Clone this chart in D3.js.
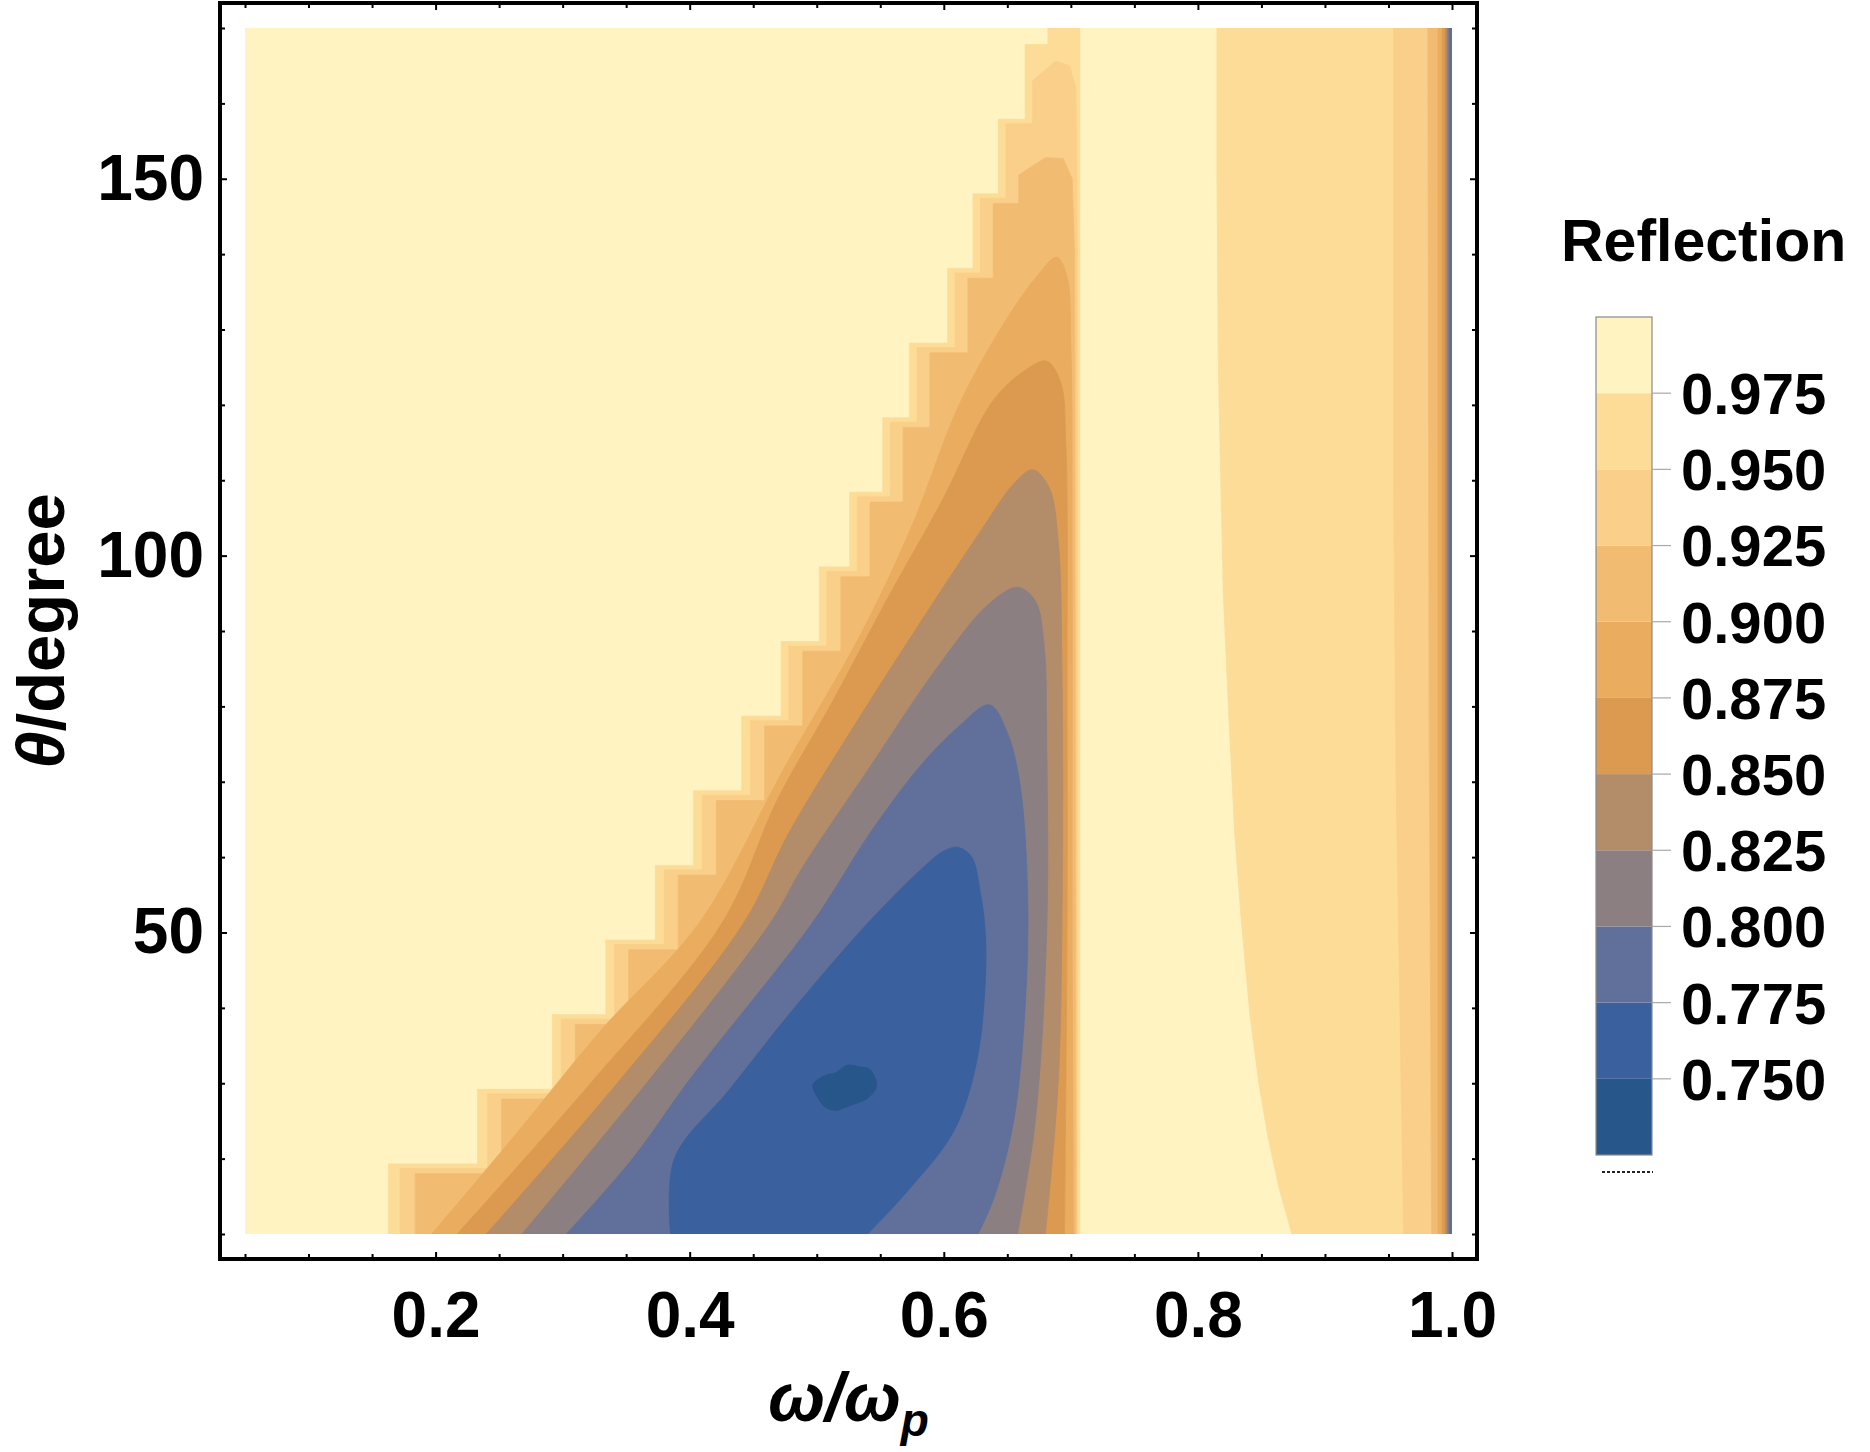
<!DOCTYPE html>
<html><head><meta charset="utf-8">
<script src="https://cdn.jsdelivr.net/npm/d3@7"></script>
<style>
body{margin:0;background:#fff}
svg{display:block}
text{font-family:"Liberation Sans",Arial,sans-serif;font-weight:bold;fill:#000}
</style>
</head><body>
<svg id="chart" width="1870" height="1452"></svg>
<script>
// ---------- data ----------
const levels = [0.975, 0.95, 0.925, 0.9, 0.875, 0.85, 0.825, 0.8, 0.775, 0.75];
const legendRange = [0.725, 1.0];
const xTicks = [0.2, 0.4, 0.6, 0.8, 1.0];
const xMinorTicks = [0.05, 0.1, 0.15, 0.25, 0.3, 0.35, 0.45, 0.5, 0.55, 0.65, 0.7, 0.75, 0.85, 0.9, 0.95];
const yTicks = [50, 100, 150];
const yMinorTicks = [10, 20, 30, 40, 60, 70, 80, 90, 110, 120, 130, 140, 160, 170];

// staircase sampling rows (theta) of the outer contours
const stepTheta975 = [10, 19.3, 29.2, 39.1, 49.0, 58.9, 68.8, 78.7, 88.6, 98.5, 108.4, 118.3, 128.2, 138.1, 148.0, 157.9, 167.8];
const stepTheta950 = [10, 18.7, 28.6, 38.5, 48.4, 58.3, 68.2, 78.1, 88.0, 97.9, 107.8, 117.7, 127.6, 137.5, 147.4, 157.3];
const stepTheta925 = [10, 18.0, 27.9, 37.8, 47.7, 57.6, 67.5, 77.4, 87.3, 97.2, 107.1, 117.0, 126.9, 136.8, 146.7];
const stepOmega975 = [0.163, 0.233, 0.292, 0.334, 0.373, 0.403, 0.441, 0.472, 0.502, 0.526, 0.552, 0.573, 0.603, 0.623, 0.643, 0.664, 0.682];
const stepOmega950 = [0.172, 0.241, 0.299, 0.341, 0.380, 0.410, 0.448, 0.478, 0.508, 0.532, 0.558, 0.579, 0.609, 0.629, 0.649, 0.670];
const stepOmega925 = [0.184, 0.252, 0.310, 0.352, 0.391, 0.421, 0.459, 0.489, 0.519, 0.542, 0.568, 0.589, 0.619, 0.639, 0.659];
// top / right side of the staircase contours [omega, theta]
const cap975 = [[0.682, 170], [0.707, 170], [0.707, 10]];
const cap950 = [[0.670, 163], [0.688, 165.6], [0.699, 165], [0.704, 162], [0.705, 140], [0.705, 10]];
const cap925 = [[0.659, 150.5], [0.680, 152.8], [0.694, 152.7], [0.701, 150], [0.703, 140], [0.704, 10]];

// smooth wedge contours [omega, theta], bottom-left -> apex -> bottom-right
const wedge900 = [[0.197, 10], [0.262, 23], [0.330, 37], [0.408, 51.4], [0.475, 72], [0.535, 89.7], [0.575, 104], [0.612, 120], [0.648, 131], [0.673, 137], [0.689, 139.6], [0.697, 137], [0.700, 128], [0.701, 100], [0.701, 51], [0.702, 10]];
const wedge875 = [[0.217, 10], [0.322, 30], [0.426, 51.4], [0.469, 67.6], [0.513, 80.8], [0.555, 94.1], [0.599, 107.4], [0.639, 120.6], [0.665, 124.7], [0.681, 125.8], [0.692, 123], [0.696, 115], [0.697, 80], [0.697, 51], [0.695, 10]];
const wedge850 = [[0.240, 10], [0.343, 30], [0.443, 51.4], [0.478, 63.2], [0.526, 76.5], [0.576, 89.7], [0.628, 103], [0.655, 109.5], [0.670, 111.4], [0.683, 109], [0.690, 102], [0.693, 85], [0.693, 51], [0.690, 30], [0.680, 10]];
const wedge825 = [[0.268, 10], [0.366, 30], [0.464, 51.4], [0.489, 58.7], [0.542, 72], [0.595, 85.2], [0.635, 93.5], [0.658, 95.8], [0.672, 94], [0.679, 88], [0.681, 75], [0.681, 50], [0.672, 25], [0.658, 10]];
const wedge800 = [[0.303, 10], [0.355, 20], [0.400, 30.5], [0.497, 51.4], [0.542, 63.2], [0.581, 72], [0.611, 77.2], [0.636, 80.2], [0.650, 76.5], [0.660, 69.6], [0.666, 55], [0.664, 40], [0.655, 25], [0.640, 15], [0.627, 10]];
const wedge775 = [[0.385, 10], [0.388, 20], [0.431, 29.1], [0.481, 39.7], [0.540, 51.2], [0.583, 58.5], [0.600, 60.8], [0.611, 61.3], [0.622, 60], [0.629, 55], [0.632, 51.4], [0.633, 45], [0.626, 33], [0.608, 23.7], [0.572, 15.8], [0.540, 10]];
const blob750 = [[0.497, 29.8], [0.506, 31.0], [0.515, 31.4], [0.524, 32.4], [0.533, 32.2], [0.542, 31.8], [0.547, 29.6], [0.540, 28.0], [0.527, 27.1], [0.515, 26.4], [0.507, 26.8], [0.500, 28.3]];

// contours of the high-frequency region near omega = 1 (top -> bottom)
const right975 = [[0.815, 170], [0.815, 150], [0.816, 126], [0.818, 110], [0.820, 95], [0.824, 80], [0.829, 63], [0.834, 52], [0.841, 39], [0.848, 30], [0.855, 23], [0.864, 16], [0.874, 10]];
const right950 = [[0.954, 170], [0.954, 110], [0.956, 70], [0.959, 40], [0.962, 10]];
const right925 = [[0.981, 170], [0.982, 80], [0.984, 10]];
const right900 = [[0.989, 170], [0.989, 10]];
const right875 = [[0.9925, 170], [0.9925, 10]];
const right850 = [[0.995, 170], [0.995, 10]];
const right825 = [[0.9965, 170], [0.9965, 10]];
const right800 = [[0.9978, 170], [0.9978, 10]];

// ---------- styles ----------
const bandColors = ['#FFF3C2', '#FDDC98', '#F9CF89', '#F1BC72', '#EAAC5E', '#DB9A50', '#B38C69', '#8B7F81', '#60709A', '#3A609E', '#27568A'];

// ---------- drawing ----------
const svg = d3.select('#chart');
const x = d3.scaleLinear().domain([0.05, 1.0]).range([245, 1452]);
const y = d3.scaleLinear().domain([10, 170]).range([1234, 28]);

svg.append('clipPath').attr('id', 'plotclip').append('rect')
  .attr('x', x(0.05)).attr('y', y(170)).attr('width', x(1.0) - x(0.05)).attr('height', y(10) - y(170));

const plot = svg.append('g').attr('clip-path', 'url(#plotclip)');
plot.append('rect').attr('x', x(0.05)).attr('y', y(170))
  .attr('width', x(1.0) - x(0.05)).attr('height', y(10) - y(170)).attr('fill', bandColors[0]);

const lin = d3.line().x(d => x(d[0])).y(d => y(d[1]));
const smooth = d3.line().x(d => x(d[0])).y(d => y(d[1])).curve(d3.curveCatmullRom.alpha(0.5));
const smoothClosed = d3.line().x(d => x(d[0])).y(d => y(d[1])).curve(d3.curveCatmullRomClosed.alpha(0.5));

function stairs(omegas, thetas, cap) {
  const pts = [];
  omegas.forEach((o, i) => {
    pts.push([o, thetas[i]]);
    if (i < omegas.length - 1) pts.push([o, thetas[i + 1]]);
  });
  return pts.concat(cap);
}
function rightRegion(edge) {
  return edge.concat([[1.0, 10], [1.0, 170]]);
}

const layers = [
  { level: 0.975, paths: [lin(stairs(stepOmega975, stepTheta975, cap975)) + 'Z', lin(rightRegion(right975)) + 'Z'] },
  { level: 0.95, paths: [lin(stairs(stepOmega950, stepTheta950, cap950)) + 'Z', lin(rightRegion(right950)) + 'Z'] },
  { level: 0.925, paths: [lin(stairs(stepOmega925, stepTheta925, cap925)) + 'Z', lin(rightRegion(right925)) + 'Z'] },
  { level: 0.9, paths: [smooth(wedge900) + 'Z', lin(rightRegion(right900)) + 'Z'] },
  { level: 0.875, paths: [smooth(wedge875) + 'Z', lin(rightRegion(right875)) + 'Z'] },
  { level: 0.85, paths: [smooth(wedge850) + 'Z', lin(rightRegion(right850)) + 'Z'] },
  { level: 0.825, paths: [smooth(wedge825) + 'Z', lin(rightRegion(right825)) + 'Z'] },
  { level: 0.8, paths: [smooth(wedge800) + 'Z', lin(rightRegion(right800)) + 'Z'] },
  { level: 0.775, paths: [smooth(wedge775) + 'Z'] },
  { level: 0.75, paths: [smoothClosed(blob750)] }
];
layers.forEach(L => {
  const ci = levels.indexOf(L.level) + 1;
  L.paths.forEach(p => {
    plot.append('path').attr('d', p).attr('fill', bandColors[ci])
      .attr('stroke', bandColors[ci]).attr('stroke-width', 0.8);
  });
});

// ---------- frame & axes ----------
const fx0 = 220, fx1 = 1477, fy0 = 3, fy1 = 1259;
function styleAxis(g, size) {
  g.select('.domain').remove();
  g.selectAll('line').attr('stroke', '#000').attr('stroke-width', 2);
  g.selectAll('text').attr('font-size', size).attr('font-family', '"Liberation Sans",Arial,sans-serif')
    .attr('font-weight', 'bold').attr('fill', '#000');
}
const fmtX = d3.format('.1f');
const MAJ = -7, MIN = -5;
svg.append('g').attr('transform', `translate(0,${fy1})`)
  .call(d3.axisBottom(x).tickValues(xTicks).tickSize(MAJ).tickPadding(33).tickFormat(fmtX))
  .call(g => styleAxis(g, 64));
svg.append('g').attr('transform', `translate(0,${fy1})`)
  .call(d3.axisBottom(x).tickValues(xMinorTicks).tickSize(MIN).tickFormat(''))
  .call(g => styleAxis(g, 10));
svg.append('g').attr('transform', `translate(0,${fy0})`)
  .call(d3.axisTop(x).tickValues(xTicks).tickSize(MAJ).tickFormat(''))
  .call(g => styleAxis(g, 10));
svg.append('g').attr('transform', `translate(0,${fy0})`)
  .call(d3.axisTop(x).tickValues(xMinorTicks).tickSize(MIN).tickFormat(''))
  .call(g => styleAxis(g, 10));
svg.append('g').attr('transform', `translate(${fx0},0)`)
  .call(d3.axisLeft(y).tickValues(yTicks).tickSize(MAJ).tickPadding(16))
  .call(g => styleAxis(g, 64));
svg.append('g').attr('transform', `translate(${fx0},0)`)
  .call(d3.axisLeft(y).tickValues(yMinorTicks).tickSize(MIN).tickFormat(''))
  .call(g => styleAxis(g, 10));
svg.append('g').attr('transform', `translate(${fx1},0)`)
  .call(d3.axisRight(y).tickValues(yTicks).tickSize(MAJ).tickFormat(''))
  .call(g => styleAxis(g, 10));
svg.append('g').attr('transform', `translate(${fx1},0)`)
  .call(d3.axisRight(y).tickValues(yMinorTicks).tickSize(MIN).tickFormat(''))
  .call(g => styleAxis(g, 10));

svg.append('rect').attr('x', fx0).attr('y', fy0).attr('width', fx1 - fx0).attr('height', fy1 - fy0)
  .attr('fill', 'none').attr('stroke', '#000').attr('stroke-width', 4);

// axis labels
const xl = svg.append('text').attr('x', (fx0 + fx1) / 2).attr('y', 1421).attr('text-anchor', 'middle')
  .attr('font-size', 68).attr('font-style', 'italic');
xl.append('tspan').text('ω/ω');
xl.append('tspan').attr('dy', 15).attr('font-size', 46).text('p');

const yl = svg.append('text').attr('transform', `translate(64,${(y(10) + y(170)) / 2}) rotate(-90)`)
  .attr('text-anchor', 'middle').attr('font-size', 67);
yl.append('tspan').attr('font-style', 'italic').text('θ');
yl.append('tspan').text('/degree');

// ---------- legend ----------
const lb = d3.scaleLinear().domain(legendRange).range([1155, 317]);
const lx0 = 1596, lx1 = 1652;
svg.append('text').attr('x', 1561).attr('y', 261).attr('font-size', 59).text('Reflection');
const edges = [legendRange[0]].concat(levels.slice().reverse(), [legendRange[1]]);
for (let i = 0; i < edges.length - 1; i++) {
  const lo = edges[i], hi = edges[i + 1];
  svg.append('rect').attr('x', lx0).attr('y', lb(hi)).attr('width', lx1 - lx0)
    .attr('height', lb(lo) - lb(hi)).attr('fill', bandColors[bandColors.length - 1 - i]);
}
svg.append('rect').attr('x', lx0).attr('y', lb(legendRange[1])).attr('width', lx1 - lx0)
  .attr('height', lb(legendRange[0]) - lb(legendRange[1])).attr('fill', 'none')
  .attr('stroke', '#8a8a8a').attr('stroke-width', 1.2);
const lfmt = d3.format('.3f');
levels.forEach(v => {
  svg.append('line').attr('x1', lx1).attr('x2', 1671).attr('y1', lb(v)).attr('y2', lb(v))
    .attr('stroke', '#a8a8a8').attr('stroke-width', 1.2);
  svg.append('text').attr('x', 1681).attr('y', lb(v)).attr('dy', '0.36em').attr('font-size', 58).text(lfmt(v));
});
svg.append('line').attr('x1', 1602).attr('x2', 1653).attr('y1', 1172).attr('y2', 1172)
  .attr('stroke', '#222').attr('stroke-width', 2).attr('stroke-dasharray', '3,2');
</script>
</body></html>
